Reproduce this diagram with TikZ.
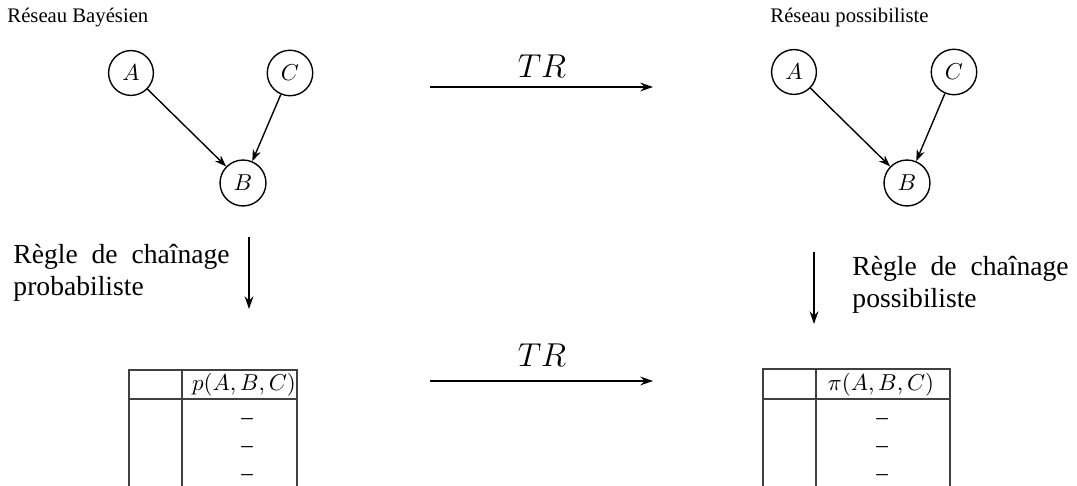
\documentclass[tikz,border=0pt]{standalone}
\usepackage{fontspec}
\setmainfont{Liberation Serif}
\usetikzlibrary{arrows.meta}
\begin{document}
\begin{tikzpicture}[x=0.4348pt,y=-0.4348pt,
  var/.style={circle,draw,semithick,inner sep=0.333em},
  edge/.style={semithick,-{Stealth[length=5pt,width=3.6pt]}},
  bigarrow/.style={thick,-{Stealth[length=5.5pt,width=3.8pt]}},
  title/.style={anchor=base west,font=\small,inner sep=0},
  rule/.style={font=\large,text width=94pt,align=justify,anchor=north west,inner sep=0},
  tab/.style={line width=0.6pt,draw=black!75},
  cell/.style={inner sep=0}]
\useasboundingbox (0,0) rectangle (1077,486);
% left network
\node[title] (t1) at (7,23) {Réseau Bayésien};
\node[var] (A1) at (131,73) {$A$};
\node[var] (C1) at (290,73) {$C$};
\node[var] (B1) at (243,183) {$B$};
\draw[edge] (A1) -- (B1);
\draw[edge] (C1) -- (B1);
% right network
\node[title] (t2) at (770,23) {Réseau possibiliste};
\node[var] (A2) at (794,72) {$A$};
\node[var] (C2) at (954,72) {$C$};
\node[var] (B2) at (907,183) {$B$};
\draw[edge] (A2) -- (B2);
\draw[edge] (C2) -- (B2);
% TR arrows
\coordinate (tr1s) at (430,87);
\coordinate (tr1e) at (653,87);
\draw[bigarrow] (tr1s) -- (tr1e);
\node[font=\Large] (tr1) at (542,66) {$TR$};
\coordinate (tr2s) at (430,381);
\coordinate (tr2e) at (653,381);
\draw[bigarrow] (tr2s) -- (tr2e);
\node[font=\Large] (tr2) at (542,355) {$TR$};
% chain rules
\coordinate (c1s) at (249,237);
\coordinate (c1e) at (249,309);
\draw[bigarrow] (c1s) -- (c1e);
\node[rule] (r1) at (13,244) {Règle de chaînage probabiliste};
\coordinate (c2s) at (814,252);
\coordinate (c2e) at (814,324);
\draw[bigarrow] (c2s) -- (c2e);
\node[rule] (r2) at (852,256) {Règle de chaînage possibiliste};
% left table
\draw[tab] (129,490) -- (129,370) -- (297,370) -- (297,490);
\draw[tab] (129,399) -- (297,399);
\draw[tab] (182,370) -- (182,490);
\node[cell] (h1) at (244,385) {$p(A,B,C)$};
\node[cell] (d11) at (247,422) {--};
\node[cell] (d12) at (247,450) {--};
\node[cell] (d13) at (247,478) {--};
% right table
\draw[tab] (763,490) -- (763,369) -- (950,369) -- (950,490);
\draw[tab] (763,399) -- (950,399);
\draw[tab] (816,369) -- (816,490);
\node[cell] (h2) at (881,385) {$\pi(A,B,C)$};
\node[cell] (d21) at (882,422) {--};
\node[cell] (d22) at (882,450) {--};
\node[cell] (d23) at (882,478) {--};
\end{tikzpicture}
\end{document}
